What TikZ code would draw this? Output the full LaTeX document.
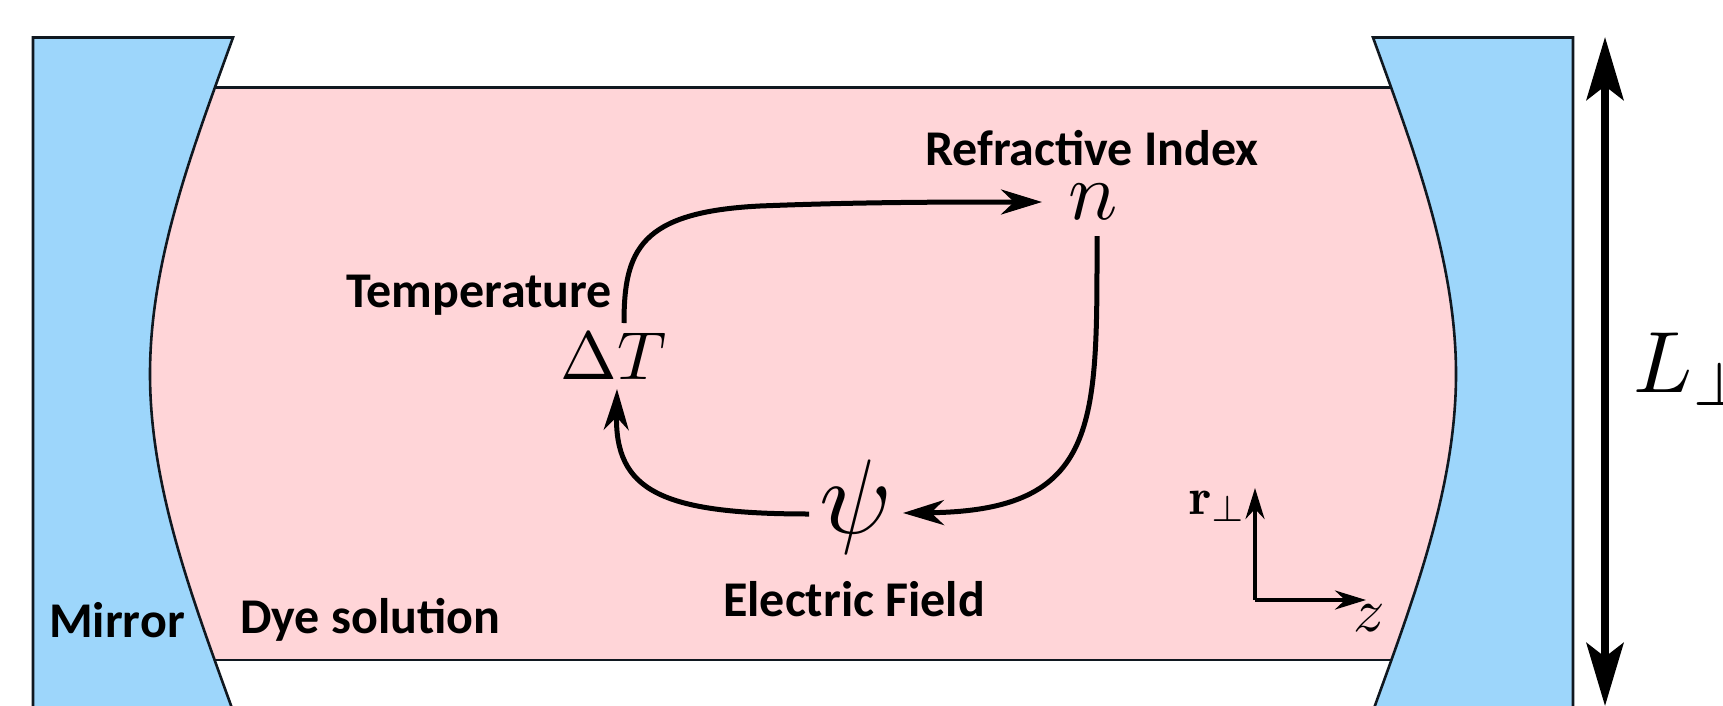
\documentclass[tikz,border=0pt]{standalone}
\usepackage{fontspec}
\newfontfamily\labfont{Carlito}
\usetikzlibrary{arrows.meta}
\definecolor{mirrorblue}{HTML}{9DD6FB}
\definecolor{dyepink}{HTML}{FFD5D8}
\definecolor{edgeink}{HTML}{101820}
\tikzset{
  x=1pt,y=-1pt,
  lab/.style={inner sep=0pt,anchor=base west,font=\labfont\bfseries\fontsize{50}{50}\selectfont},
  sym/.style={inner sep=0pt,anchor=base west},
  mirror/.style={fill=mirrorblue,draw=edgeink,line width=2.6pt,line join=miter},
  loopar/.style={line width=5pt,-{Stealth[length=41pt,width=25pt,inset=13pt]}},
  axisar/.style={line width=3.5pt,-{Stealth[length=31pt,width=19pt,inset=10pt]}},
  sizear/.style={line width=7.5pt,{Stealth[length=63pt,width=37pt,inset=14pt]}-{Stealth[length=63pt,width=37pt,inset=14pt]}}
}
\begin{document}
\begin{tikzpicture}
\useasboundingbox (0,0) rectangle (1723,706);
\clip (0,0) rectangle (1723,706);
\fill[white] (0,0) rectangle (1723,706);
% dye
\path[fill=dyepink,draw=edgeink,line width=2.2pt] (100,87.5) rectangle (1500,660);
% mirrors
\draw[mirror] (33,37.5) -- (233,37.5) .. controls (193,148) and (150,260) .. (150,374)
  .. controls (150,488) and (193,600) .. (233,711) -- (33,711) -- cycle;
\draw[mirror] (1573,37.5) -- (1373,37.5) .. controls (1413,148) and (1456,260) .. (1456,374)
  .. controls (1456,488) and (1413,600) .. (1373,711) -- (1573,711) -- cycle;
% labels
\node[lab] (mir) at (49,637) {Mirror};
\node[lab] (dye) at (240,633) {Dye solution};
\node[lab] (tmp) at (346,307) {Temperature};
\node[lab] (rfi) at (925,165) {Refractive Index};
\node[lab] (efi) at (723,616) {Electric Field};
% symbols
\node[sym,scale=6.8] (dT) at (559,379) {$\Delta T$};
\node[sym,scale=8.2] (nn) at (1067,219) {$n$};
\node[sym,scale=10.6] (psi) at (817,533) {$\psi$};
\node[sym,scale=6.2] (zz) at (1352,631) {$z$};
\node[sym,scale=5.2] (rp) at (1188,514) {$\mathbf{r}_\perp$};
\node[sym,scale=8.7] (LL) at (1632,392) {$L_\perp$};
% loop
\coordinate (bend) at (760,206);
\draw[loopar] ([shift={(65,-56)}]dT.base west) .. controls +(0,-73) and +(-120,6) .. (bend)
  .. controls +(100,-4) and +(-92,0) .. ([shift={(-25,-17)}]nn.base west);
\draw[loopar] ([shift={(30,17)}]nn.base west) .. controls +(0,188) and +(197,-2) .. ([shift={(86,-20)}]psi.base west);
\draw[loopar] ([shift={(-8,-19)}]psi.base west) .. controls +(-149,0) and +(-2,101) .. ([shift={(58,10)}]dT.base west);
% axes
\coordinate (ax0) at (1255,600);
\coordinate (axu) at (1255,488);
\coordinate (axr) at (1366,600);
\draw[axisar] (ax0) -- (axu);
\draw[axisar] (ax0) -- (axr);
% size arrow
\coordinate (st) at (1605,37);
\coordinate (sb) at (1605,706);
\draw[sizear] (st) -- (sb);
\end{tikzpicture}
\end{document}
